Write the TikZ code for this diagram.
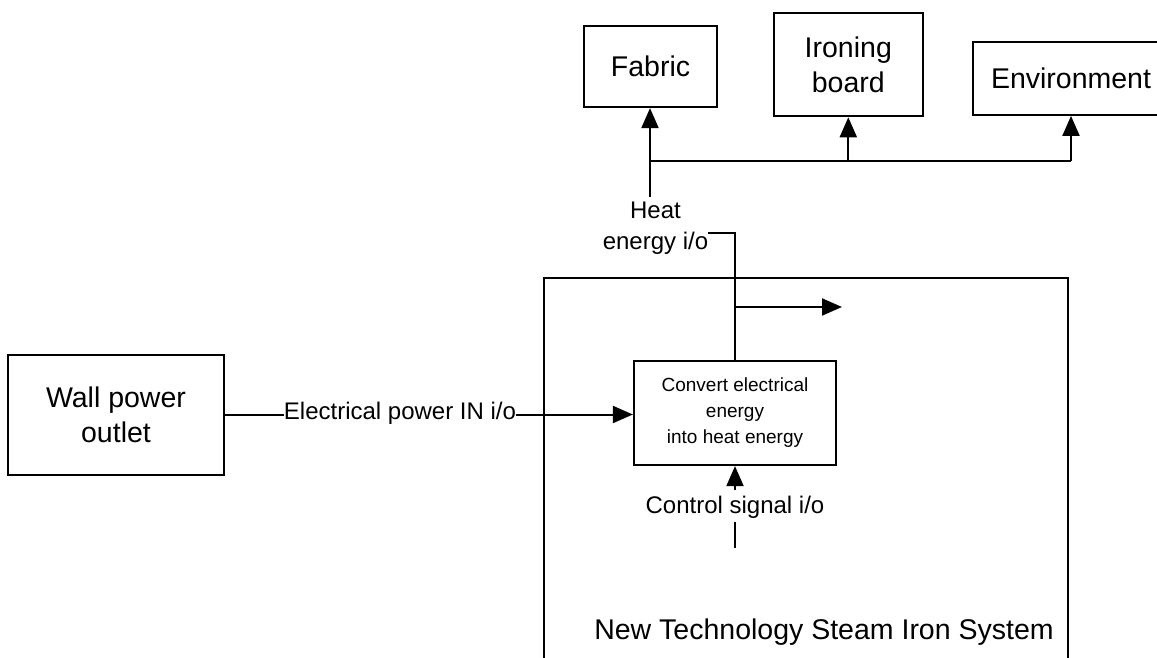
\documentclass[tikz,border=0pt]{standalone}
\usepackage{fontspec}
\setmainfont{Liberation Sans}
\usetikzlibrary{arrows.meta}
\newdimen\px \px=0.5pt
\tikzset{
  box/.style={draw, line width=1.1pt, inner sep=0pt, align=center},
  big/.style={font=\fontsize{14.25pt}{17.5pt}\selectfont},
  mid/.style={font=\fontsize{12pt}{15.5pt}\selectfont},
  small/.style={font=\fontsize{9.5pt}{13pt}\selectfont},
  conn/.style={line width=1pt},
  arr/.style={line width=1pt, -{Triangle[width=8.5pt,length=10pt]}},
  lbl/.style={inner sep=0pt, align=center}
}
\begin{document}
\begin{tikzpicture}[x=0.5pt,y=-0.5pt]
\useasboundingbox (0,0) rectangle (1157,658);
\clip (0,0) rectangle (1157,658);
% boxes
\node[box,big,minimum width=133\px,minimum height=81\px] (fabric) at (650.5,66.5) {Fabric};
\node[box,big,minimum width=149\px,minimum height=103\px] (ironing) at (848.3,64.7) {Ironing\\board};
\node[box,big,minimum width=196\px,minimum height=73\px] (env) at (1071,78.3) {Environment};
\node[box,big,minimum width=216\px,minimum height=120\px] (wall) at (116,415) {Wall power\\outlet};
\node[box,minimum width=524\px,minimum height=420\px] (sys) at (806,488) {};
\node[box,small,fill=white,minimum width=202\px,minimum height=104\px] (conv) at (735,413) {Convert electrical\\energy\\into heat energy};
% labels
\node[lbl,big] (syslbl) at (824,632) {New Technology Steam Iron System};
\node[lbl,mid] (heat) at (655.5,228) {Heat\\energy i/o};
\node[lbl,mid] (elec) at (400,413) {Electrical power IN i/o};
\node[lbl,mid] (ctl) at (735,507) {Control signal i/o};
% coordinates
\coordinate (hTop) at (650,197);
\coordinate (hR) at (708,233);
\coordinate (busR) at (1071,161);
\coordinate (outA) at (842,307);
\coordinate (eL) at (224,414.5);
\coordinate (c1) at (735,490);
\coordinate (c2) at (735,522);
\coordinate (c3) at (735,548);
% heat connectors
\draw[arr] (hTop) -- (hTop |- fabric.south);
\draw[conn] (hTop |- busR) -- (busR);
\draw[arr] (ironing.south |- busR) -- (ironing.south);
\draw[arr] (busR) -- (env.south);
\draw[conn] (hR) -- (conv.north |- hR) -- (conv.north);
\draw[arr] (conv.north |- outA) -- (outA);
% electrical
\draw[conn] (wall.east |- eL) -- (elec.west |- eL);
\draw[arr] (elec.east |- eL) -- (conv.west |- eL);
% control
\draw[arr] (c1) -- (conv.south);
\draw[conn] (c2) -- (c3);
\end{tikzpicture}
\end{document}
